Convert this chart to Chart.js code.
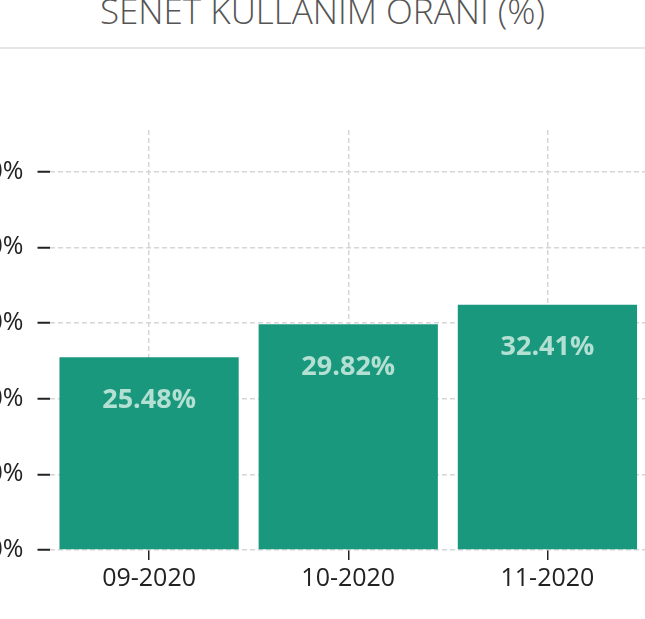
<!DOCTYPE html>
<html lang="tr">
<head>
    <meta charset="UTF-8">
    <title>Senet Kullanım Oranı</title>
    <script src="https://cdn.jsdelivr.net/npm/chart.js"></script>
    <style>
        body {
            margin: 0;
            width: 645px;
            height: 619px;
            overflow: hidden;
            position: relative;
            background: #fff;
            font-family: "Open Sans", sans-serif;
        }
        .title {
            position: absolute;
            top: -7px;
            left: 0;
            width: 645px;
            text-align: center;
            font-size: 35px;
            line-height: 1;
            font-weight: 300;
            color: #555;
            white-space: nowrap;
        }
        .rule {
            position: absolute;
            top: 47px;
            left: 0;
            width: 645px;
            height: 2px;
            background: #e6e6e6;
        }
        .chart-box {
            position: absolute;
            left: -31px;
            top: 110px;
            width: 678px;
            height: 500px;
        }
    </style>
</head>
<body>
    <div class="title">SENET KULLANIM ORANI (%)</div>
    <div class="rule"></div>
    <div class="chart-box"><canvas id="chart"></canvas></div>
    <script>
        const months = ['09-2020', '10-2020', '11-2020'];
        const usageRate = [25.48, 29.82, 32.41];
        const yTicks = [0, 10, 20, 30, 40, 50];
        const yMax = 55.5;

        // values written inside the bars
        const barLabels = {
            id: 'barLabels',
            afterDatasetsDraw(chart) {
                const ctx = chart.ctx;
                const meta = chart.getDatasetMeta(0);
                ctx.save();
                ctx.font = 'bold 27px "Open Sans", sans-serif';
                ctx.fillStyle = '#b3e0d2';
                ctx.textAlign = 'center';
                ctx.textBaseline = 'middle';
                meta.data.forEach((bar, i) => {
                    ctx.fillText(usageRate[i].toFixed(2) + '%', bar.x, bar.y + 43);
                });
                ctx.restore();
            }
        };

        new Chart(document.getElementById('chart'), {
            type: 'bar',
            data: {
                labels: months,
                datasets: [{
                    data: usageRate,
                    backgroundColor: '#19987d',
                    categoryPercentage: 1,
                    barPercentage: 0.9
                }]
            },
            options: {
                responsive: true,
                maintainAspectRatio: false,
                animation: false,
                layout: { padding: { top: 20, right: 0, left: 0, bottom: 0 } },
                plugins: {
                    legend: { display: false },
                    tooltip: { enabled: false }
                },
                scales: {
                    x: {
                        afterFit(scale) { scale.height = 60; },
                        border: { display: false, dash: [5, 3] },
                        grid: {
                            offset: false,
                            color: '#d6d6d6',
                            lineWidth: 1.5,
                            tickColor: '#222',
                            tickWidth: 1.5,
                            tickLength: 10
                        },
                        ticks: {
                            color: '#222',
                            padding: 4,
                            font: { family: 'Open Sans', size: 25 }
                        }
                    },
                    y: {
                        min: 0,
                        max: yMax,
                        afterFit(scale) {
                            scale.width = 80.5;
                            scale.paddingTop = 0;
                            scale.paddingBottom = 0;
                        },
                        afterBuildTicks(scale) {
                            scale.ticks = yTicks.map(v => ({ value: v }));
                        },
                        border: { display: false, dash: [5, 3] },
                        grid: {
                            color: '#d6d6d6',
                            lineWidth: 1.5,
                            tickColor: '#222',
                            tickWidth: 2,
                            tickLength: 12
                        },
                        ticks: {
                            color: '#222',
                            padding: 14,
                            font: { family: 'Open Sans', size: 25 },
                            callback: v => v + '%'
                        }
                    }
                }
            },
            plugins: [barLabels]
        });
    </script>
</body>
</html>
